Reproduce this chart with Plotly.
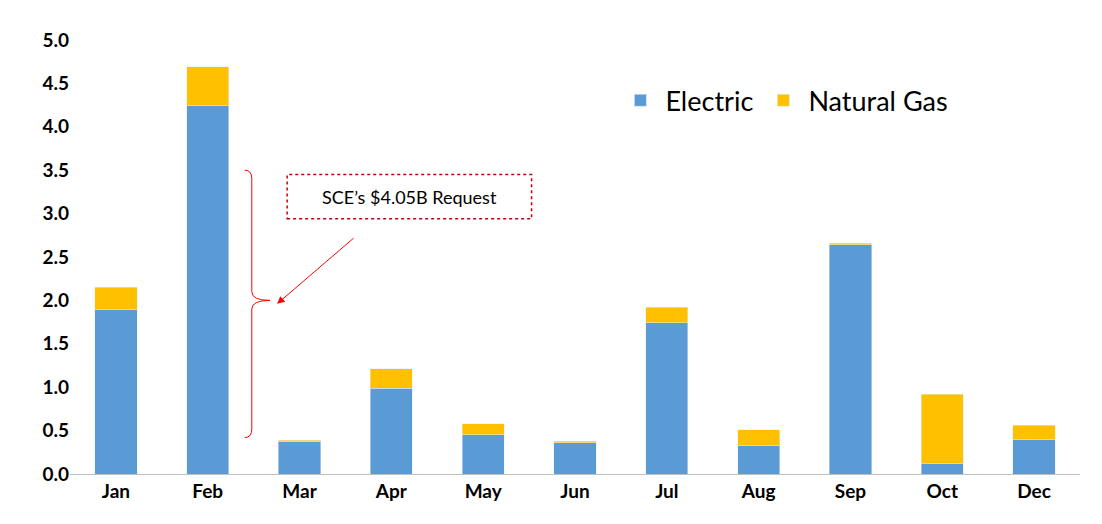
import plotly.graph_objects as go

# monthly values
months = ['Jan', 'Feb', 'Mar', 'Apr', 'May', 'Jun', 'Jul', 'Aug', 'Sep', 'Oct', 'Dec']
electric = [1.89, 4.24, 0.37, 0.99, 0.45, 0.36, 1.74, 0.33, 2.64, 0.12, 0.40]
natural_gas = [0.26, 0.45, 0.02, 0.22, 0.13, 0.02, 0.18, 0.18, 0.02, 0.80, 0.16]
y_ticks = [0, 0.5, 1, 1.5, 2, 2.5, 3, 3.5, 4, 4.5, 5]

fig = go.Figure()
fig.add_trace(go.Bar(x=months, y=electric, name='Electric', marker_color='#5B9BD5'))
fig.add_trace(go.Bar(x=months, y=natural_gas, name='Natural Gas', marker_color='#FFC000'))

brace = ('M 0.173,3.5 Q 0.18,3.5 0.18,3.4 L 0.18,2.1 Q 0.18,2.0 0.198,2.0 '
         'Q 0.18,2.0 0.18,1.9 L 0.18,0.52 Q 0.18,0.42 0.173,0.42')

fig.update_layout(
    width=1102, height=524,
    barmode='stack', bargap=0.54,
    plot_bgcolor='white', paper_bgcolor='white',
    margin=dict(l=62, r=30, t=32, b=58),
    font=dict(family='Lato', color='black'),
    legend=dict(orientation='h', x=0.54, y=0.86, xanchor='left', yanchor='middle',
                font=dict(size=27), itemwidth=40, traceorder='normal'),
    xaxis=dict(showline=True, linecolor='#BFBFBF', linewidth=1, ticks='',
               tickfont=dict(size=19, family='Lato', weight='bold')),
    yaxis=dict(range=[0, 5], tickvals=y_ticks, tickformat='.1f', showgrid=False,
               zeroline=False, tickfont=dict(size=19, family='Lato', weight='bold')),
    shapes=[
        dict(type='path', path=brace, xref='paper', yref='y',
             line=dict(color='red', width=1)),
        dict(type='rect', xref='paper', yref='y', x0=0.215, x1=0.457, y0=2.94, y1=3.45,
             line=dict(color='#C00000', width=1.5, dash='dot'), fillcolor='white'),
    ],
    annotations=[
        dict(x=0.336, y=3.195, xref='paper', yref='y', text="SCE’s $4.05B Request",
             showarrow=False, font=dict(size=18, family='Lato')),
        dict(x=0.205, y=1.96, xref='paper', yref='y', text='', showarrow=True,
             ax=78, ay=-67, arrowcolor='red', arrowwidth=1, arrowhead=2, arrowsize=1.5),
    ],
)

fig.write_html('out.html')
